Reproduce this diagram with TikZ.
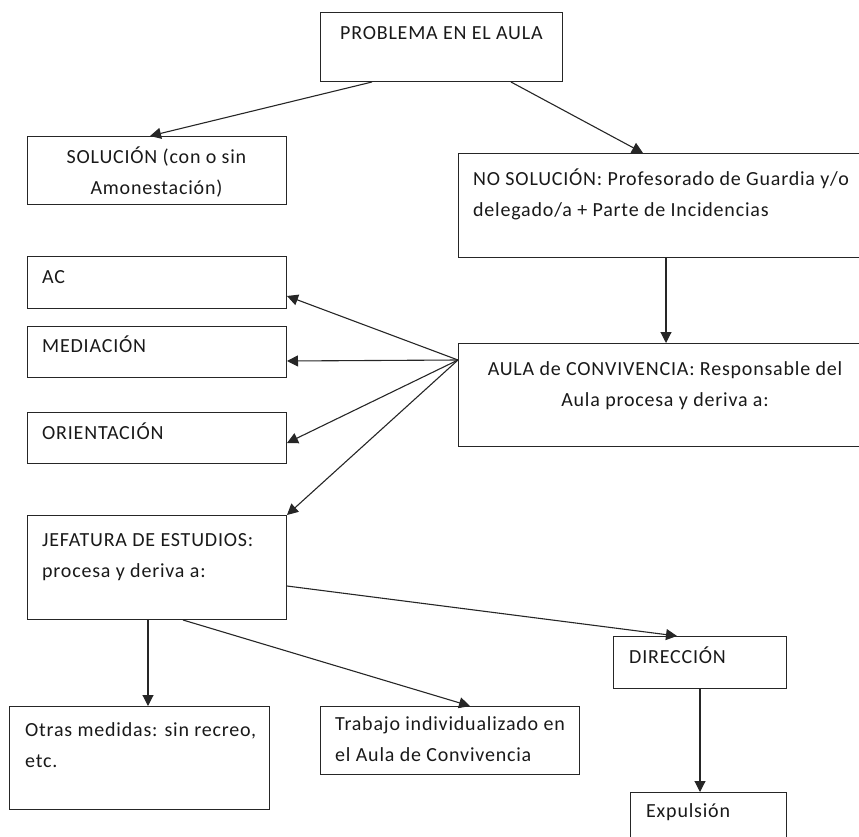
\documentclass[tikz,border=0pt]{standalone}
\usepackage{fontspec}
\setmainfont[LetterSpace=4]{Carlito}
\usetikzlibrary{arrows.meta}

\begin{document}
\begin{tikzpicture}[x=1pt, y=-1pt,
    box/.style={draw=black!85, line width=1pt, inner sep=0pt, anchor=north west},
    txt/.style={inner sep=0pt, anchor=base west, align=left, text=black!90,
      font=\fontsize{20}{31}\selectfont},
    arr/.style={draw=black!85, line width=1.1pt, -{Triangle[length=11pt,width=11pt]}}]
  \useasboundingbox (0,0) rectangle (859,837);
  \clip (0,0) rectangle (859,837);
  % cajas
  \node[box, minimum width=242, minimum height=69]  (prob)  at (320,12)  {};
  \node[box, minimum width=259, minimum height=68]  (sol)   at (27,136)  {};
  \node[box, minimum width=414, minimum height=104] (nosol) at (458,153) {};
  \node[box, minimum width=259, minimum height=52]  (ac)    at (27,256)  {};
  \node[box, minimum width=259, minimum height=51]  (med)   at (27,326)  {};
  \node[box, minimum width=259, minimum height=51]  (ori)   at (27,412)  {};
  \node[box, minimum width=414, minimum height=103] (aula)  at (458,343) {};
  \node[box, minimum width=259, minimum height=104] (jef)   at (27,515)  {};
  \node[box, minimum width=260, minimum height=103] (otras) at (9,706)   {};
  \node[box, minimum width=259, minimum height=68]  (trab)  at (320,706) {};
  \node[box, minimum width=173, minimum height=52]  (dir)   at (613,636) {};
  \node[box, minimum width=156, minimum height=70]  (exp)   at (630,792) {};
  % textos (base = linea de base de la ultima linea)
  \node[txt] (probt) at (340,40) {PROBLEMA EN EL AULA};
  \node[txt, anchor=base, align=center] (solt) at (156.5,195)
    {SOLUCIÓN (con o sin\\Amonestación)};
  \node[txt] (nosolt) at (473,216)
    {NO SOLUCIÓN: Profesorado de Guardia y/o\\delegado/a + Parte de Incidencias};
  \node[txt] (act)   at (42,283) {AC};
  \node[txt] (medt)  at (42,352) {MEDIACIÓN};
  \node[txt] (orit)  at (42,439) {ORIENTACIÓN};
  \node[txt, anchor=base, align=center] (aulat) at (665,406)
    {AULA de CONVIVENCIA: Responsable del\\Aula procesa y deriva a:};
  \node[txt] (jeft)   at (42,577)  {JEFATURA DE ESTUDIOS:\\procesa y deriva a:};
  \node[txt] (otrast) at (25,767)  {Otras medidas: sin recreo,\\etc.};
  \node[txt] (trabt)  at (335,761) {Trabajo individualizado en\\el Aula de Convivencia};
  \node[txt] (dirt)   at (629,663) {DIRECCIÓN};
  \node[txt] (expt)   at (646,817) {Expulsión};
  % flechas
  \draw[arr] ([xshift=52]prob.south west) -- ([xshift=123]sol.north west);
  \draw[arr] ([xshift=-52]prob.south east) -- ([xshift=185]nosol.north west);
  \draw[arr] ([xshift=208]nosol.south west) -- ([xshift=208]aula.north west);
  \draw[arr] ([yshift=-17]aula.north west) -- ([yshift=13]ac.south east);
  \draw[arr] ([yshift=-17]aula.north west) -- ([yshift=17]med.south east);
  \draw[arr] ([yshift=-17]aula.north west) -- ([yshift=21]ori.south east);
  \draw[arr] ([yshift=-17]aula.north west) -- (jef.north east);
  \draw[arr] ([xshift=121]jef.south west) -- ([xshift=139]otras.north west);
  \draw[arr] ([xshift=156]jef.south west) -- ([xshift=150]trab.north west);
  \draw[arr] ([yshift=34]jef.south east) -- ([xshift=64]dir.north west);
  \draw[arr] ([xshift=87]dir.south west) -- ([xshift=70]exp.north west);
\end{tikzpicture}
\end{document}
